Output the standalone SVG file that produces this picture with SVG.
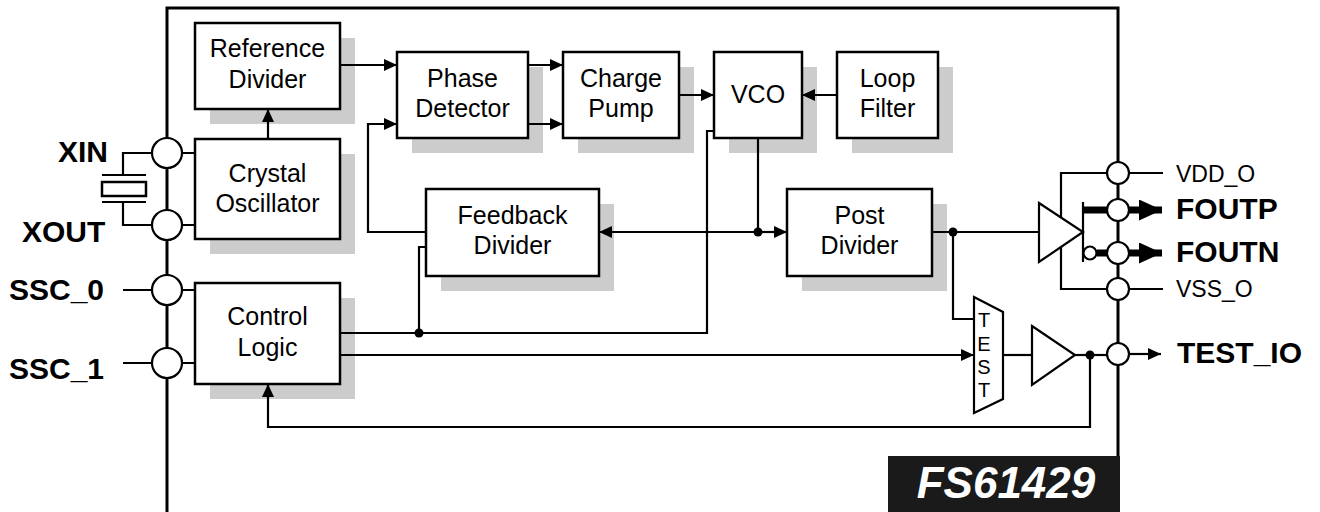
<svg xmlns="http://www.w3.org/2000/svg" width="1320" height="512" viewBox="0 0 1320 512">
<defs>
<style>
.blk{fill:#fff;stroke:#000;stroke-width:2.5}
.sh{fill:#cccccc}
.w{fill:none;stroke:#000;stroke-width:2.2}
.pin{fill:#fff;stroke:#000;stroke-width:2.2}
.t{font-family:"Liberation Sans",Arial,sans-serif;font-size:25px;text-anchor:middle;fill:#000}
.pl{font-family:"Liberation Sans",Arial,sans-serif;font-size:30px;font-weight:bold;fill:#000}
.pr{font-family:"Liberation Sans",Arial,sans-serif;font-size:23px;fill:#000}
.dot{fill:#000}
</style>
<marker id="ah" viewBox="0 0 13 12" refX="13" refY="6" markerWidth="13" markerHeight="12" markerUnits="userSpaceOnUse" orient="auto">
<path d="M0,0 L13,6 L0,12 Z" fill="#000"/>
</marker>
<marker id="ahb" viewBox="0 0 23 21" refX="23" refY="10.5" markerWidth="23" markerHeight="21" markerUnits="userSpaceOnUse" orient="auto">
<path d="M0,0 L23,10.5 L0,21 Z" fill="#000"/>
</marker>
</defs>
<rect width="1320" height="512" fill="#fff"/>

<g id="chip">
<path d="M167,512 V8 H1118 V512" fill="none" stroke="#000" stroke-width="3"/>
</g>

<g id="ref-divider">
<rect class="sh" x="210" y="38" width="145" height="86"/>
<rect class="blk" x="195" y="23" width="145" height="86"/>
<text class="t" x="267.5" y="57">Reference</text>
<text class="t" x="267.5" y="88">Divider</text>
</g>

<g id="crystal-osc">
<rect class="sh" x="210" y="154" width="145" height="100"/>
<rect class="blk" x="195" y="139" width="145" height="100"/>
<text class="t" x="267.5" y="182">Crystal</text>
<text class="t" x="267.5" y="212">Oscillator</text>
</g>

<g id="control-logic">
<rect class="sh" x="210" y="298" width="145" height="101"/>
<rect class="blk" x="195" y="283" width="145" height="101"/>
<text class="t" x="267.5" y="325">Control</text>
<text class="t" x="267.5" y="356">Logic</text>
</g>

<g id="phase-detector">
<rect class="sh" x="412" y="67" width="131" height="86"/>
<rect class="blk" x="397" y="52" width="131" height="86"/>
<text class="t" x="462.5" y="87">Phase</text>
<text class="t" x="462.5" y="117">Detector</text>
</g>

<g id="charge-pump">
<rect class="sh" x="578" y="67" width="116" height="86"/>
<rect class="blk" x="563" y="52" width="116" height="86"/>
<text class="t" x="621" y="87">Charge</text>
<text class="t" x="621" y="117">Pump</text>
</g>

<g id="vco">
<rect class="sh" x="729" y="67" width="88" height="86"/>
<rect class="blk" x="714" y="52" width="88" height="86"/>
<text class="t" x="758" y="103">VCO</text>
</g>

<g id="loop-filter">
<rect class="sh" x="852" y="67" width="101" height="86"/>
<rect class="blk" x="837" y="52" width="101" height="86"/>
<text class="t" x="887.5" y="87">Loop</text>
<text class="t" x="887.5" y="117">Filter</text>
</g>

<g id="feedback-divider">
<rect class="sh" x="441" y="204" width="173" height="87"/>
<rect class="blk" x="426" y="189" width="173" height="87"/>
<text class="t" x="512.5" y="224">Feedback</text>
<text class="t" x="512.5" y="254">Divider</text>
</g>

<g id="post-divider">
<rect class="sh" x="802" y="204" width="145" height="87"/>
<rect class="blk" x="787" y="189" width="145" height="87"/>
<text class="t" x="859.5" y="224">Post</text>
<text class="t" x="859.5" y="254">Divider</text>
</g>

<g id="connectors">
<path class="w" d="M340,65 H397" marker-end="url(#ah)"/>
<path class="w" d="M268,139 V109" marker-end="url(#ah)"/>
<path class="w" d="M426,232 H368 V124 H397" marker-end="url(#ah)"/>
<path class="w" d="M528,65 H563" marker-end="url(#ah)"/>
<path class="w" d="M528,124 H563" marker-end="url(#ah)"/>
<path class="w" d="M679,95 H714" marker-end="url(#ah)"/>
<path class="w" d="M837,95 H802" marker-end="url(#ah)"/>
<path class="w" d="M758,138 V232"/>
<path class="w" d="M758,232 H599" marker-end="url(#ah)"/>
<path class="w" d="M758,232 H787" marker-end="url(#ah)"/>
<path class="w" d="M932,232 H1039"/>
<path class="w" d="M953,232 V319 H974"/>
<path class="w" d="M340,333 H707 V131 H714"/>
<path class="w" d="M419,333 V247 H426"/>
<path class="w" d="M340,355 H974" marker-end="url(#ah)"/>
<path class="w" d="M1003,355 H1032"/>
<path class="w" d="M1075,355 H1107"/>
<path class="w" d="M1090,355 V427 H268 V384" marker-end="url(#ah)"/>
<path class="w" d="M182,153 H195 M182,225 H195 M182,290 H195 M182,363 H195"/>
<path class="w" d="M123,290 H152 M123,363 H152"/>
<circle class="dot" cx="758" cy="232" r="4.5"/>
<circle class="dot" cx="953" cy="232" r="4.5"/>
<circle class="dot" cx="419" cy="333" r="4.5"/>
<circle class="dot" cx="1090" cy="355" r="4.5"/>
</g>

<g id="crystal">
<path class="w" d="M152,153 H123 V175 M152,225 H123 V202"/>
<path class="w" stroke-width="2.5" d="M102,175 H146 M102,202 H146"/>
<rect x="102" y="182" width="44" height="14" fill="#fff" stroke="#000" stroke-width="2.5"/>
</g>

<g id="test-mux">
<path d="M974,297 L1003,312 V399 L974,413 Z" fill="#fff" stroke="#000" stroke-width="2.2"/>
<g font-family="Liberation Sans, Arial, sans-serif" font-size="20" text-anchor="middle">
<text x="984" y="327">T</text>
<text x="984" y="351">E</text>
<text x="984" y="374">S</text>
<text x="984" y="397">T</text>
</g>
</g>

<g id="test-buffer">
<path d="M1032,326 L1075,355 L1032,385 Z" fill="#fff" stroke="#000" stroke-width="2.2"/>
</g>

<g id="output-driver">
<path class="w" d="M1061,217 V173 H1107 M1061,247 V289 H1107"/>
<path d="M1039,203 L1083,232 L1039,262 Z" fill="#fff" stroke="#000" stroke-width="2.2"/>
<path class="w" d="M1083,202 V262"/>
<path d="M1083,210 H1107" stroke="#000" stroke-width="7"/>
<path d="M1097,253 H1107" stroke="#000" stroke-width="7"/>
<circle cx="1090" cy="253" r="6.5" fill="#fff" stroke="#000" stroke-width="2.2"/>
<path d="M1129,210 H1162" stroke="#000" stroke-width="7" marker-end="url(#ahb)" fill="none"/>
<path d="M1129,253 H1162" stroke="#000" stroke-width="7" marker-end="url(#ahb)" fill="none"/>
</g>

<g id="pins-left">
<circle class="pin" cx="167" cy="153" r="15"/>
<circle class="pin" cx="167" cy="225" r="15"/>
<circle class="pin" cx="167" cy="290" r="15"/>
<circle class="pin" cx="167" cy="363" r="15"/>
<text class="pl" x="108" y="162" text-anchor="end">XIN</text>
<text class="pl" x="22" y="242">XOUT</text>
<text class="pl" x="9" y="300">SSC_0</text>
<text class="pl" x="9" y="379">SSC_1</text>
</g>

<g id="pins-right">
<path class="w" d="M1129,173 H1163 M1129,289 H1163"/>
<path class="w" d="M1129,354 H1161" marker-end="url(#ah)"/>
<circle class="pin" cx="1118" cy="173" r="11"/>
<circle class="pin" cx="1118" cy="210" r="11"/>
<circle class="pin" cx="1118" cy="253" r="11"/>
<circle class="pin" cx="1118" cy="289" r="11"/>
<circle class="pin" cx="1118" cy="354" r="11"/>
<text class="pr" x="1176" y="182">VDD_O</text>
<text class="pl" x="1176" y="219" font-size="29">FOUTP</text>
<text class="pl" x="1176" y="262" font-size="29">FOUTN</text>
<text class="pr" x="1176" y="297">VSS_O</text>
<text class="pl" x="1177" y="363">TEST_IO</text>
</g>

<g id="part-label">
<rect x="888" y="456" width="232" height="56" fill="#1a1a1a"/>
<text x="1006" y="498" font-family="Liberation Sans, Arial, sans-serif" font-size="44" font-weight="bold" font-style="italic" fill="#fff" text-anchor="middle">FS61429</text>
</g>
</svg>
